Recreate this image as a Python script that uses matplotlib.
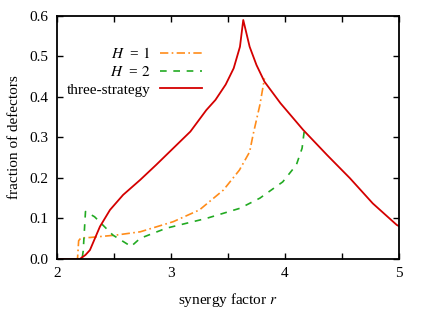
import matplotlib
matplotlib.use("Agg")
import matplotlib.pyplot as plt
from matplotlib.ticker import MultipleLocator, FormatStrFormatter
from matplotlib.lines import Line2D

plt.rcParams['font.family'] = ['Liberation Serif', 'DejaVu Serif']
plt.rcParams['mathtext.fontset'] = 'stix'
plt.rcParams['font.size'] = 11

# H = 1 (orange, dash-dot)
r_h1 = [2.0, 2.18, 2.19, 2.21, 2.29, 2.52, 2.73, 3.02, 3.25, 3.46, 3.6, 3.69, 3.72, 3.78, 3.82]
f_h1 = [0.0, 0.0, 0.045, 0.052, 0.053, 0.059, 0.067, 0.092, 0.121, 0.170, 0.219, 0.264, 0.306, 0.38, 0.445]

# H = 2 (green, dashed)
r_h2 = [2.0, 2.22, 2.23, 2.25, 2.33, 2.49, 2.65, 2.73, 2.96, 3.31, 3.605, 3.78, 3.98, 4.10, 4.15, 4.17]
f_h2 = [0.0, 0.0, 0.02, 0.117, 0.104, 0.059, 0.031, 0.051, 0.076, 0.100, 0.125, 0.150, 0.19, 0.232, 0.273, 0.318]

# three-strategy (red, solid)
r_ts = [2.0, 2.2, 2.25, 2.289, 2.377, 2.465, 2.58, 2.73, 2.87, 3.02, 3.17, 3.31, 3.39, 3.48,
        3.55, 3.605, 3.634, 3.69, 3.75, 3.82, 3.96, 4.16, 4.37, 4.57, 4.77, 4.98, 5.0]
f_ts = [0.0, 0.0, 0.01, 0.022, 0.08, 0.121, 0.158, 0.195, 0.232, 0.273, 0.314, 0.367, 0.392, 0.43,
        0.47, 0.523, 0.589, 0.523, 0.478, 0.437, 0.384, 0.318, 0.256, 0.199, 0.137, 0.084, 0.081]

c_h1 = '#ff8c1a'
c_h2 = '#22aa22'
c_ts = '#d40000'

fig = plt.figure(figsize=(4.36, 3.09), dpi=100)
ax = fig.add_axes([0.1307, 0.1618, 0.7844, 0.788])

ax.plot(r_h1, f_h1, color=c_h1, lw=1.2, dashes=(5, 2, 1, 2))
ax.plot(r_h2, f_h2, color=c_h2, lw=1.2, dashes=(4, 4))
ax.plot(r_ts, f_ts, color=c_ts, lw=1.3)

ax.set_xlim(2, 5)
ax.set_ylim(0, 0.6)
ax.xaxis.set_major_locator(MultipleLocator(1))
ax.xaxis.set_minor_locator(MultipleLocator(0.5))
ax.yaxis.set_major_locator(MultipleLocator(0.1))
ax.yaxis.set_major_formatter(FormatStrFormatter('%.1f'))
ax.tick_params(which='both', direction='in', top=True, right=True, width=1)
ax.tick_params(which='major', length=4, pad=6)
ax.tick_params(which='minor', length=4)
for s in ax.spines.values():
    s.set_linewidth(1.3)

ax.set_xlabel('synergy factor $r$', labelpad=8)
ax.set_ylabel('fraction of defectors', labelpad=6)

# gnuplot-style key: text right-aligned, sample to the right
handles = [Line2D([0], [0], color=c_h1, lw=1.2, dashes=(5, 2, 1, 2)),
           Line2D([0], [0], color=c_h2, lw=1.2, dashes=(4, 4)),
           Line2D([0], [0], color=c_ts, lw=1.3)]
labels = ['$H$  = $\\mathit{1}$', '$H$  = $\\mathit{2}$', 'three-strategy']
leg = ax.legend(handles, labels, loc='upper left', bbox_to_anchor=(-0.012, 0.93),
                frameon=False, markerfirst=False, handlelength=2.7,
                labelspacing=0.25, handletextpad=0.65, alignment='right')
for t in leg.get_texts():
    t.set_ha('right')

fig.savefig('out.png', dpi=100)
